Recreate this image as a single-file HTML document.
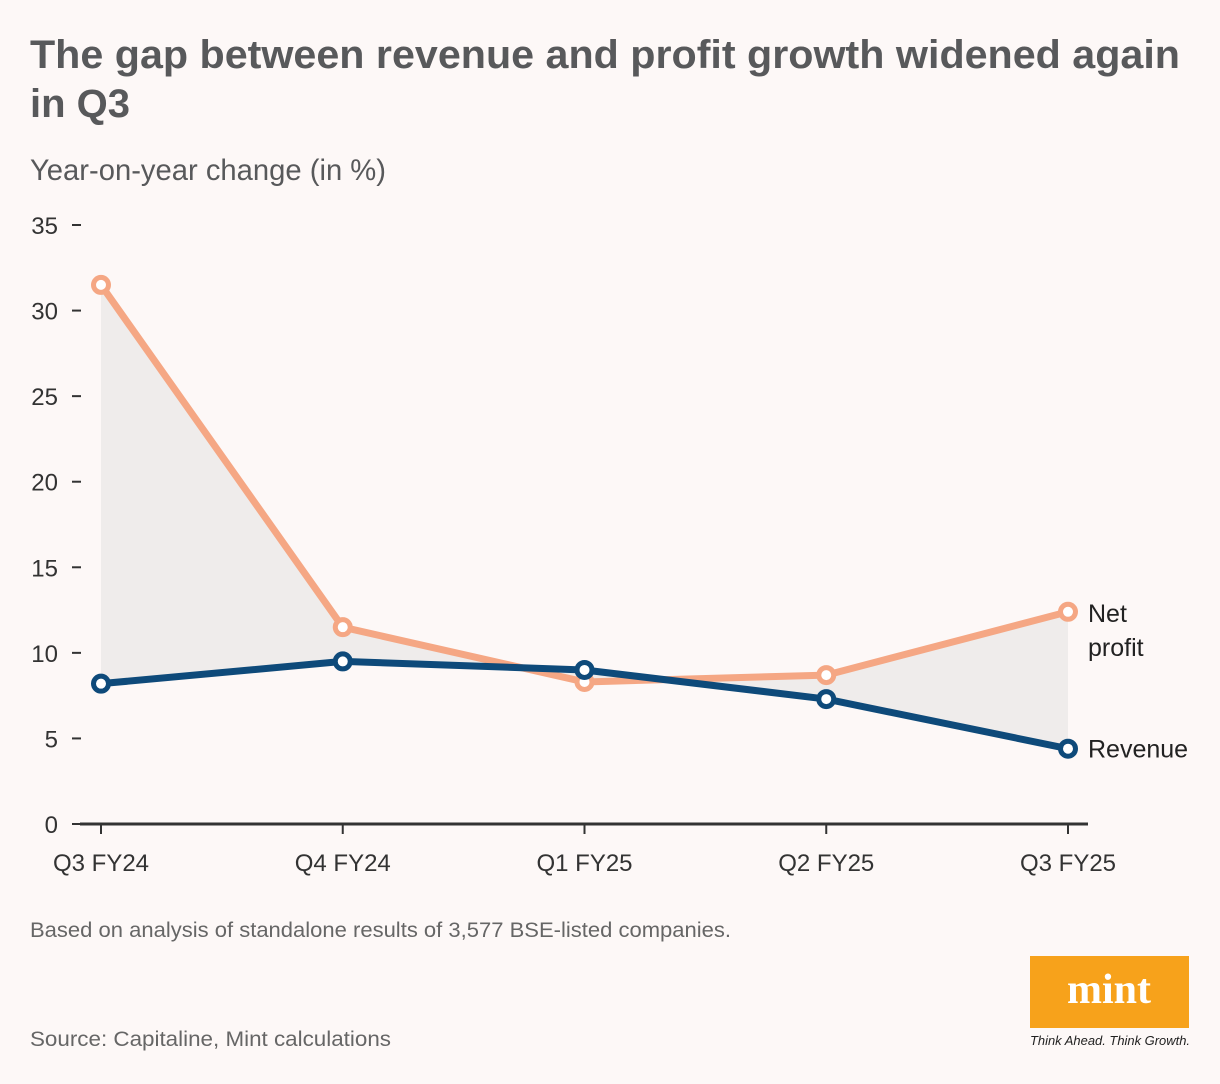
<!DOCTYPE html>
<html><head><meta charset="utf-8"><style>
html,body{margin:0;padding:0;background:#fdf8f7;}
svg{display:block;font-family:"Liberation Sans",sans-serif;}
</style></head><body>
<svg id="chart" width="1220" height="1084" viewBox="0 0 1220 1084" xmlns="http://www.w3.org/2000/svg">
<rect width="1220" height="1084" fill="#fdf8f7"/>
<text x="30" y="68" font-size="40" font-weight="bold" fill="#58595b" textLength="1150" lengthAdjust="spacingAndGlyphs">The gap between revenue and profit growth widened again</text>
<text x="30" y="117" font-size="40" font-weight="bold" fill="#58595b" textLength="100" lengthAdjust="spacingAndGlyphs">in Q3</text>
<text x="30" y="180" font-size="30" fill="#58595b" textLength="356" lengthAdjust="spacingAndGlyphs">Year-on-year change (in %)</text>
<g id="plot"></g>
<text x="30" y="937" font-size="21" fill="#666" textLength="701" lengthAdjust="spacingAndGlyphs">Based on analysis of standalone results of 3,577 BSE-listed companies.</text>
<text x="30" y="1046" font-size="21" fill="#666" textLength="361" lengthAdjust="spacingAndGlyphs">Source: Capitaline, Mint calculations</text>
<g>
<rect x="1030" y="956" width="159" height="72" fill="#f7a21b"/>
<text x="1109" y="1003" text-anchor="middle" font-family="Liberation Serif,serif" font-weight="bold" font-size="42" fill="#fff">mint</text>
<text x="1110" y="1045" text-anchor="middle" font-size="12.5" font-style="italic" fill="#222" textLength="160" lengthAdjust="spacingAndGlyphs">Think Ahead. Think Growth.</text>
</g>
</svg>
<script>
const categories = ["Q3 FY24","Q4 FY24","Q1 FY25","Q2 FY25","Q3 FY25"];
const netProfit = [31.5, 11.5, 8.3, 8.7, 12.4];
const revenue = [8.2, 9.5, 9.0, 7.3, 4.4];
const yTicks = [0,5,10,15,20,25,30,35];

const NS = "http://www.w3.org/2000/svg";
const g = document.getElementById("plot");
const x = i => 101 + i * (1068 - 101) / (categories.length - 1);
const y = v => 824 - v * (824 - 225) / 35;
function mk(tag, attrs, parent) {
  const e = document.createElementNS(NS, tag);
  for (const k in attrs) e.setAttribute(k, attrs[k]);
  (parent || g).appendChild(e);
  return e;
}
// gap area
let pts = netProfit.map((v,i)=>x(i)+","+y(v)).concat(revenue.map((v,i)=>x(i)+","+y(v)).reverse());
const area = mk("polygon", {points: pts.join(" "), fill: "#efeceb"});


// y ticks
yTicks.forEach(t => {
  const tl = mk("text", {x: 58, y: y(t) + 9, "text-anchor": "end", "font-size": 24, fill: "#333"});
  tl.textContent = t;
  
  
  const tm = mk("line", {x1: 72, x2: 81, y1: y(t), y2: y(t), stroke: "#333", "stroke-width": 2});
  
  
});
// x axis
const ax = mk("line", {x1: 80, x2: 1088, y1: 824, y2: 824, stroke: "#333", "stroke-width": 3});


categories.forEach((c,i) => {
  const tm = mk("line", {x1: x(i), x2: x(i), y1: 824, y2: 834, stroke: "#333", "stroke-width": 2});
  
  
  const tl = mk("text", {x: x(i), y: 871, "text-anchor": "middle", "font-size": 24, fill: "#333"});
  tl.textContent = c;
  
  
});
function series(vals, color, name) {
  const l = mk("polyline", {points: vals.map((v,i)=>x(i)+","+y(v)).join(" "), fill: "none", stroke: color, "stroke-width": 7, "stroke-linejoin": "round"});
  
  
  vals.forEach((v,i) => {
    const c = mk("circle", {cx: x(i), cy: y(v), r: 7.5, fill: "#fff", stroke: color, "stroke-width": 5});
    
    
  });
}
series(netProfit, "#f5a784", "net-profit");
series(revenue, "#0e4a7a", "revenue");
const last = categories.length - 1;
const l1 = mk("text", {x: 1088, y: y(netProfit[last]) + 10, "font-size": 25, fill: "#222"});
l1.textContent = "Net";


const l2 = mk("text", {x: 1088, y: y(netProfit[last]) + 44, "font-size": 25, fill: "#222"});
l2.textContent = "profit";


const l3 = mk("text", {x: 1088, y: y(revenue[last]) + 9, "font-size": 25, fill: "#222"});
l3.textContent = "Revenue";


</script>
</body></html>
